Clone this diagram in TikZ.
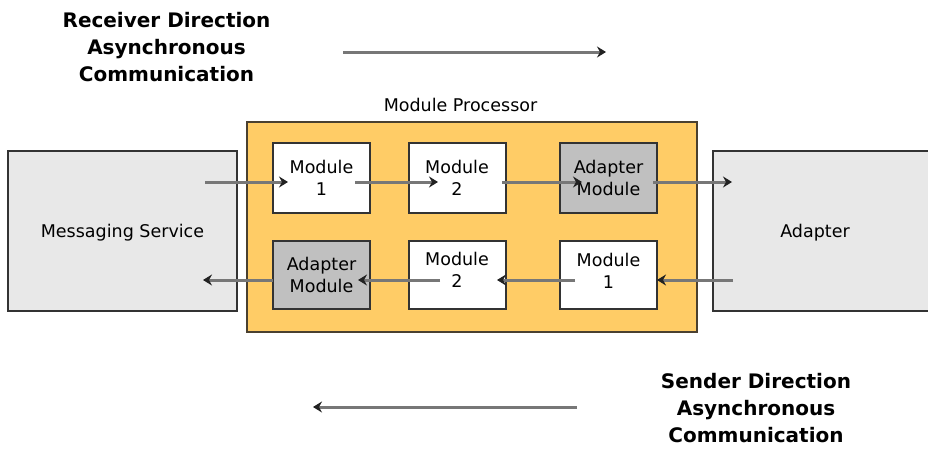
\documentclass[tikz,border=0pt]{standalone}
\usepackage{fontspec}
\setmainfont{DejaVu Sans}
\usetikzlibrary{arrows.meta}
\definecolor{procfill}{HTML}{FFCC66}
\definecolor{procline}{HTML}{4A4030}
\definecolor{boxline}{HTML}{333333}
\definecolor{sidefill}{HTML}{E8E8E8}
\definecolor{modgray}{HTML}{C0C0C0}
\definecolor{arrowgray}{HTML}{777777}
\definecolor{headdark}{HTML}{222222}
\begin{document}
\begin{tikzpicture}[x=1pt,y=-1pt,
  lbl/.style={font=\fontsize{17.5}{22}\selectfont, align=center},
  title/.style={font=\bfseries\fontsize{20}{27}\selectfont, align=center, inner sep=0},
  sidebox/.style={draw=boxline, line width=2pt, fill=sidefill, inner sep=0, minimum width=229pt, minimum height=160pt, lbl},
  modbox/.style={draw=boxline, line width=2pt, fill=white, inner sep=0, minimum width=97pt, lbl},
  adbox/.style={modbox, fill=modgray},
  flow/.style={draw=arrowgray, line width=3pt, -{Stealth[length=9pt,width=11pt,inset=3pt,color=headdark]}}
]
\useasboundingbox (0,0) rectangle (928,450);
\clip (0,0) rectangle (928,450);

% titles
\node[title] (rtitle) at (166.5,47.5) {Receiver Direction\\Asynchronous\\Communication};
\node[title] (stitle) at (756,408) {Sender Direction\\Asynchronous\\Communication};

% direction arrows
\coordinate (ra) at (343,52);
\coordinate (rb) at (606,52);
\coordinate (sa) at (577,407);
\coordinate (sb) at (313,407);
\draw[flow] (ra) -- (rb);
\draw[flow] (sa) -- (sb);

% side boxes
\node[sidebox, text depth=0pt] (msg) at (122.5,231) {Messaging Service};
\node[sidebox] (adapter) at (827.5,231) {};
\node[lbl, inner sep=0] (adaptertxt) at (815,233) {Adapter};

% module processor
\node[draw=procline, line width=2pt, fill=procfill, minimum width=450pt, minimum height=210pt, inner sep=0] (proc) at (472,227) {};
\node[lbl, inner sep=0] (proclbl) at (460.5,105) {Module Processor};

% top row
\node[modbox, minimum height=70pt] (m1) at (321.5,178) {Module\\1};
\node[modbox, minimum height=70pt] (m2) at (457,178) {Module\\2};
\node[adbox, minimum height=70pt] (am) at (608.5,178) {Adapter\\Module};

% bottom row
\node[adbox, minimum height=68pt] (bam) at (321.5,275) {Adapter\\Module};
\node[modbox, minimum height=68pt, text depth=10pt] (bm2) at (457,275) {Module\\2};
\node[modbox, minimum height=68pt, text depth=8pt] (bm1) at (608.5,275) {Module\\1};

% top row flow
\coordinate (t0) at (205,182);
\coordinate (t1) at (288,182);
\coordinate (t2) at (355,182);
\coordinate (t3) at (438,182);
\coordinate (t4) at (502,182);
\coordinate (t5) at (582,182);
\coordinate (t6) at (653,182);
\coordinate (t7) at (732,182);
\draw[flow] (t0) -- (t1);
\draw[flow] (t2) -- (t3);
\draw[flow] (t4) -- (t5);
\draw[flow] (t6) -- (t7);

% bottom row flow
\coordinate (b0) at (733,280);
\coordinate (b1) at (657,280);
\coordinate (b2) at (575,280);
\coordinate (b3) at (497,280);
\coordinate (b4) at (440,280);
\coordinate (b5) at (358,280);
\coordinate (b6) at (273,280);
\coordinate (b7) at (203,280);
\draw[flow] (b0) -- (b1);
\draw[flow] (b2) -- (b3);
\draw[flow] (b4) -- (b5);
\draw[flow] (b6) -- (b7);
\end{tikzpicture}
\end{document}
